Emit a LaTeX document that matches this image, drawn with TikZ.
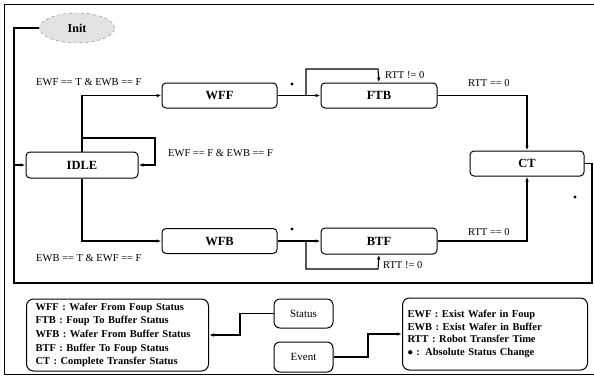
\documentclass[tikz,border=0pt]{standalone}
\usepackage{fontspec}
\setmainfont{Liberation Serif}
\usetikzlibrary{arrows.meta,shapes.geometric}
\begin{document}
\begin{tikzpicture}[x=1pt,y=-1pt,
  statebox/.style={draw, line width=1pt, rounded corners=4pt, inner sep=0pt,
    font=\bfseries\fontsize{12.5}{14}\selectfont},
  lab/.style={font=\fontsize{10.5}{12}\selectfont, inner sep=0pt, anchor=west},
  legbox/.style={draw, line width=1pt, rounded corners=7pt, align=left, anchor=west,
    font=\bfseries\fontsize{10.5}{13.7}\selectfont},
  arr/.style={-{Latex[length=5pt,width=3.5pt]}, line width=1.1pt},
  ln/.style={line width=1.1pt},
  dotmark/.style={circle, fill, inner sep=0pt, minimum size=3.4pt}]
\useasboundingbox (0,0) rectangle (594,376);
% outer frame
\draw[line width=1pt] (594,4) -- (4,4) -- (4,374) -- (594,374);

% states
\node[ellipse, draw=gray, fill=gray!22, dashed, minimum width=75pt, minimum height=30pt,
      font=\bfseries\fontsize{12}{14}\selectfont] (init) at (77,28) {Init};
\node[statebox, minimum width=112pt, minimum height=26pt] (idle) at (82,165) {IDLE};
\node[statebox, minimum width=115pt, minimum height=25pt] (wff) at (219.5,95.5) {WFF};
\node[statebox, minimum width=116pt, minimum height=25pt] (ftb) at (379,95.5) {FTB};
\node[statebox, minimum width=115pt, minimum height=25pt] (wfb) at (219.5,241) {WFB};
\node[statebox, minimum width=116pt, minimum height=26pt] (btf) at (379,241) {BTF};
\node[statebox, minimum width=114pt, minimum height=25pt] (ct) at (527,163.5) {CT};

% coordinates for loops
\coordinate (lpL) at (14,165);
\coordinate (lpB) at (14,283);
\coordinate (lpR) at (592,283);
\coordinate (ilp) at (82,138);
\coordinate (ftbl) at (306,95.5);
\coordinate (btfl) at (306,241);

% transitions
\draw[arr] (idle.north) |- (wff.west);
\draw[arr] (idle.south) |- (wfb.west);
\draw[arr] (ilp) -- (155,138) |- (idle.east);
\draw[arr] (wff.east) -- (ftb.west);
\draw[arr] (ftbl) |- (378,69) -- (ftb.north);
\draw[arr] (ftb.east) -| (ct.north);
\draw[arr] (wfb.east) -- (btf.west);
\draw[arr] (btfl) |- (378,269) -- (btf.south);
\draw[arr] (btf.east) -| (ct.south);
\draw[arr] (ct.east) -| (lpR) -- (lpB) -- (lpL) -- (idle.west);
\draw[ln] (init.west) -| (lpL);

% labels
\node[lab] (l1) at (36,82) {EWF == T \& EWB == F};
\node[lab] (l2) at (168,153) {EWF == F \& EWB == F};
\node[lab] (l3) at (36,258) {EWB == T \& EWF == F};
\node[lab] (l4) at (385,75) {RTT != 0};
\node[lab] (l5) at (468,83) {RTT == 0};
\node[lab] (l6) at (468,232) {RTT == 0};
\node[lab] (l7) at (383,265.5) {RTT != 0};
\node[dotmark] (d1) at (292,84) {};
\node[dotmark] (d2) at (292,229) {};
\node[dotmark] (d3) at (575,197) {};

% legend
\node[legbox, minimum width=182pt, minimum height=72pt, text width=164pt, inner xsep=9pt] (leg1) at (26,335)
  {WFF : Wafer From Foup Status\\FTB : Foup To Buffer Status\\WFB : Wafer From Buffer Status\\BTF : Buffer To Foup Status\\CT : Complete Transfer Status};
\node[statebox, rounded corners=6pt, font=\fontsize{11}{13}\selectfont, minimum width=59pt, minimum height=29pt] (status) at (303.5,313.5) {Status};
\node[statebox, rounded corners=6pt, font=\fontsize{11}{13}\selectfont, minimum width=59pt, minimum height=30pt] (event) at (303.5,357) {Event};
\node[legbox, minimum width=185pt, minimum height=72pt, text width=175pt, inner xsep=5pt,
  font=\bfseries\fontsize{10.5}{12.5}\selectfont] (leg2) at (402,334)
  {EWF : Exist Wafer in Foup\\EWB : Exist Wafer in Buffer\\RTT : Robot Transfer Time\\$\bullet$ : Absolute Status Change};
\draw[arr] (status.west) -- (240,313.5) |- (leg1.east);
\draw[arr] (event.east) -- (368,357) |- (leg2.west);
\end{tikzpicture}
\end{document}
